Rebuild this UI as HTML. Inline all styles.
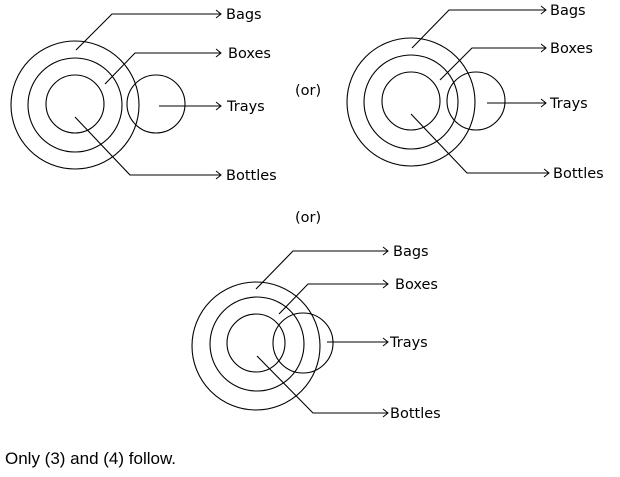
<!DOCTYPE html>
<html><head><meta charset="utf-8"><style>
html,body{margin:0;padding:0;background:#fff;width:620px;height:477px;overflow:hidden}
svg{display:block}
text{font-family:"DejaVu Sans","Liberation Sans",sans-serif;font-size:14.5px;fill:#000}
</style></head><body>
<svg width="620" height="477" viewBox="0 0 620 477" xmlns="http://www.w3.org/2000/svg">
<defs><marker id="a" markerWidth="8" markerHeight="10" refX="6" refY="5" orient="auto" markerUnits="userSpaceOnUse"><path d="M1,1 L6,5 L1,9" fill="none" stroke="#000" stroke-width="1"/></marker></defs>
<g fill="none" stroke="#000" stroke-width="1.1">
<circle cx="75" cy="105" r="64"/><circle cx="75" cy="105" r="47"/><circle cx="75" cy="104" r="29"/><circle cx="156" cy="104" r="29"/>
<polyline points="76,50 112,14 221,14" marker-end="url(#a)"/>
<polyline points="105,84 135,53 221,53" marker-end="url(#a)"/>
<polyline points="159,106 221,106" marker-end="url(#a)"/>
<polyline points="75,117 130,175 221,175" marker-end="url(#a)"/>
<circle cx="411" cy="102" r="64"/><circle cx="411" cy="102" r="47"/><circle cx="411" cy="101" r="29"/><circle cx="476" cy="101" r="29"/>
<polyline points="412,48 449,10 546,10" marker-end="url(#a)"/>
<polyline points="440,80 472,48 546,48" marker-end="url(#a)"/>
<polyline points="487,103 546,103" marker-end="url(#a)"/>
<polyline points="411,114 467,173 549,173" marker-end="url(#a)"/>
<circle cx="256" cy="346" r="64"/><circle cx="257" cy="344" r="47"/><circle cx="256" cy="343" r="29"/><circle cx="303" cy="343" r="30"/>
<polyline points="256,289 293,251 388,251" marker-end="url(#a)"/>
<polyline points="279,314 308,284 388,284" marker-end="url(#a)"/>
<polyline points="327,342 388,342" marker-end="url(#a)"/>
<polyline points="257,356 313,413 388,413" marker-end="url(#a)"/>
</g>
<text x="226" y="19">Bags</text>
<text x="228" y="58">Boxes</text>
<text x="227" y="111">Trays</text>
<text x="226" y="180">Bottles</text>
<text x="295" y="95">(or)</text>
<text x="550" y="15">Bags</text>
<text x="550" y="53">Boxes</text>
<text x="550" y="108">Trays</text>
<text x="553" y="178">Bottles</text>
<text x="295" y="222">(or)</text>
<text x="393" y="256">Bags</text>
<text x="395" y="289">Boxes</text>
<text x="390" y="347">Trays</text>
<text x="390" y="418">Bottles</text>
<text x="5" y="464" style="font-family:'Liberation Sans',sans-serif;font-size:17px">Only (3) and (4) follow.</text>
</svg>
</body></html>
